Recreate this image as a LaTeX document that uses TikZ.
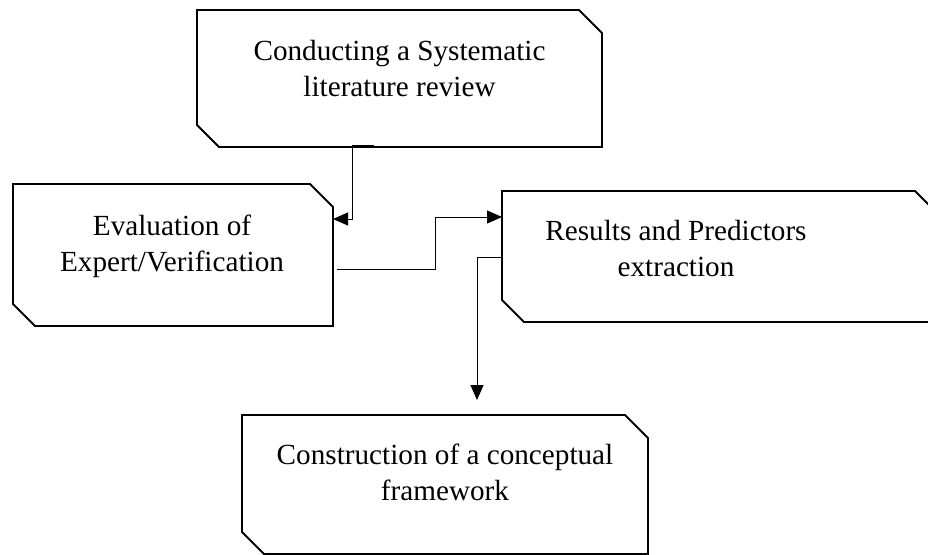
\documentclass[tikz,border=0pt]{standalone}
\usepackage{fontspec}
\setmainfont{Liberation Serif}
\usetikzlibrary{arrows.meta,calc}
\newcommand{\chbox}[1]{%
  \draw[boxline] (#1.north west) -- ([xshift=-23pt]#1.north east)
    -- ([yshift=-23pt]#1.north east) -- (#1.south east)
    -- ([xshift=22pt]#1.south west) -- ([yshift=22pt]#1.south west) -- cycle;}
\begin{document}
\begin{tikzpicture}[x=1pt,y=-1pt,
  box/.style={rectangle, inner sep=0pt, outer sep=0pt},
  boxline/.style={line width=1.9pt, line join=miter},
  boxtext/.style={align=center, font=\fontsize{29.2}{36}\selectfont, inner sep=0pt},
  conn/.style={line width=0.9pt},
  tip/.style={-{Triangle[length=15pt,width=13pt]}}
]
\useasboundingbox (0,0) rectangle (928,554);

\node[box, minimum width=405pt, minimum height=137pt] (b1) at (399.5,78.5) {};
\node[box, minimum width=320pt, minimum height=142pt] (b2) at (173,255) {};
\node[box, minimum width=436pt, minimum height=131pt] (b3) at (720,256.5) {};
\node[box, minimum width=406pt, minimum height=139pt] (b4) at (445,484.5) {};
\chbox{b1}
\chbox{b2}
\chbox{b3}
\chbox{b4}

\node[boxtext] (t1) at ([yshift=10pt]b1.center) {Conducting a Systematic\\literature review};
\node[boxtext] (t2) at ([xshift=-1pt,yshift=9pt]b2.center) {Evaluation of\\Expert/Verification};
\node[boxtext] (t3) at ([xshift=-44pt,yshift=7.5pt]b3.center) {Results and Predictors\\extraction};
\node[boxtext] (t4) at ([yshift=12pt]b4.center) {Construction of a conceptual\\framework};

\coordinate (a1) at ([xshift=-25.5pt,yshift=2pt]b1.south);
\draw[conn,tip] (a1) -- ++(-22,0) |- ([yshift=36pt]b2.east);
\draw[conn,tip] ([xshift=4pt,yshift=-14pt]b2.east) -- ++(98,0) |- ([yshift=39.5pt]b3.west);
\draw[conn,tip] ([yshift=-0.5pt]b3.west) -| ([xshift=32pt,yshift=15pt]b4.north);
\end{tikzpicture}
\end{document}
